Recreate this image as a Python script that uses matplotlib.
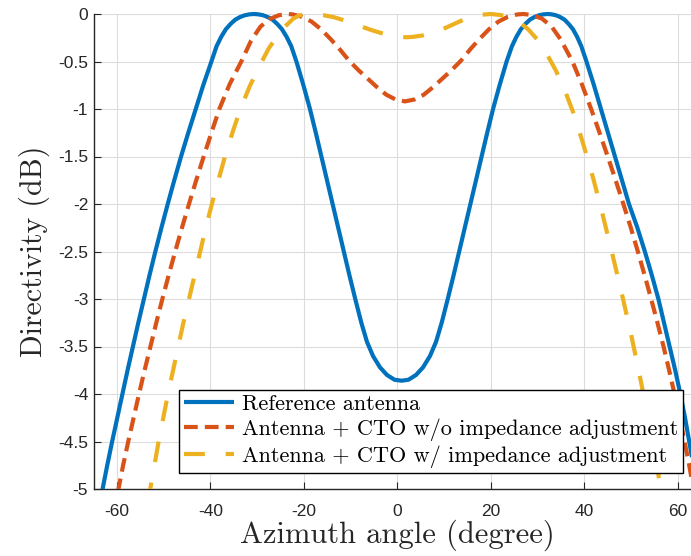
import matplotlib
matplotlib.use('Agg')
import matplotlib.pyplot as plt
from matplotlib.patches import Rectangle

# ---------------- data ----------------
# Reference antenna
ref_x = [-64.0, -63.1, -62.1, -61.05, -59.95, -58.85, -57.75, -56.6, -55.45, -54.25,
         -53.05, -51.8, -50.5, -49.15, -47.75, -46.3, -44.75, -43.15, -41.55, -39.8,
         -38.7, -37.7, -36.7, -35.7, -34.7, -33.7, -32.7, -31.7, -30.7, -29.7,
         -28.7, -27.7, -26.7, -25.7, -24.7, -23.7, -22.7, -21.6, -20.1, -18.7,
         -17.45, -16.25, -15.05, -13.85, -12.65, -11.45, -10.25, -9.0, -7.7, -6.5,
         -5.2, -3.7, -2.2, -0.6, 0.9, 2.4, 4.0, 5.5, 7.0, 8.3,
         9.5, 10.8, 12.05, 13.25, 14.45, 15.65, 16.85, 18.05, 19.25, 20.5,
         21.9, 23.4, 24.54, 25.5, 26.46, 27.42, 28.37, 29.33, 30.29, 31.24,
         32.2, 33.1, 34.0, 34.9, 35.8, 36.7, 37.6, 38.5, 39.4, 40.5,
         42.1, 43.6, 45.1, 46.6, 48.1, 49.6, 51.4, 53.0, 54.5, 55.9,
         57.1, 58.3, 59.5, 60.6, 61.6, 62.5, 63.4, 64.3]
ref_y = [-5.25, -5.0, -4.75, -4.5, -4.25, -4.0, -3.75, -3.5, -3.25, -3.0,
         -2.75, -2.5, -2.25, -2.0, -1.75, -1.5, -1.25, -1.0, -0.75, -0.5,
         -0.34, -0.24, -0.16, -0.105, -0.06, -0.033, -0.014, -0.004, 0.0, -0.004,
         -0.014, -0.033, -0.06, -0.105, -0.16, -0.24, -0.34, -0.5, -0.75, -1.0,
         -1.25, -1.5, -1.75, -2.0, -2.25, -2.5, -2.75, -3.0, -3.25, -3.45,
         -3.6, -3.72, -3.8, -3.85, -3.86, -3.85, -3.8, -3.72, -3.6, -3.45,
         -3.25, -3.0, -2.75, -2.5, -2.25, -2.0, -1.75, -1.5, -1.25, -1.0,
         -0.75, -0.5, -0.34, -0.24, -0.16, -0.105, -0.06, -0.033, -0.014, -0.004,
         0.0, -0.004, -0.014, -0.033, -0.06, -0.105, -0.16, -0.24, -0.34, -0.5,
         -0.75, -1.0, -1.25, -1.5, -1.75, -2.0, -2.25, -2.5, -2.75, -3.0,
         -3.25, -3.5, -3.75, -4.0, -4.25, -4.5, -4.75, -5.0]

# Antenna + CTO w/o impedance adjustment
wo_x = [-60.4, -59.7, -58.7, -57.6, -56.45, -55.3, -54.1, -52.85, -51.6, -50.3,
        -48.95, -47.55, -46.1, -44.6, -43.05, -41.45, -39.8, -38.1, -35.9, -33.4,
        -31.3, -29.3, -27.3, -25.3, -23.3, -22.35, -20.35, -18.35, -16.35, -14.35,
        -12.35, -10.35, -8.35, -6.35, -4.35, -2.35, -0.35, 1.65, 3.65, 5.65,
        7.65, 9.65, 11.65, 13.65, 15.65, 17.65, 19.65, 21.65, 23.65, 25.65,
        27.0, 29.0, 31.0, 33.0, 35.0, 37.5, 39.6, 41.5, 43.3, 45.05,
        46.75, 48.4, 50.0, 51.5, 52.95, 54.35, 55.7, 57.0, 58.2, 59.35,
        60.45, 61.5, 62.5, 63.4, 64.2]
wo_y = [-5.25, -5.0, -4.75, -4.5, -4.25, -4.0, -3.75, -3.5, -3.25, -3.0,
        -2.75, -2.5, -2.25, -2.0, -1.75, -1.5, -1.25, -1.0, -0.74, -0.5,
        -0.28, -0.133, -0.052, -0.012, 0.0, -0.005, -0.03, -0.08, -0.16, -0.26,
        -0.37, -0.49, -0.59, -0.68, -0.77, -0.85, -0.9, -0.92, -0.9, -0.85,
        -0.77, -0.68, -0.59, -0.49, -0.37, -0.26, -0.16, -0.08, -0.03, -0.005,
        0.0, -0.012, -0.05, -0.13, -0.27, -0.5, -0.75, -1.0, -1.25, -1.5,
        -1.75, -2.0, -2.25, -2.5, -2.75, -3.0, -3.25, -3.5, -3.75, -4.0,
        -4.25, -4.5, -4.75, -5.0, -5.2]

# Antenna + CTO w/ impedance adjustment
w_x = [-53.2, -52.9, -52.0, -51.1, -50.1, -49.1, -48.0, -46.9, -45.8, -44.6,
       -43.4, -42.2, -41.0, -39.7, -38.3, -36.9, -35.3, -33.6, -31.5, -29.0,
       -27.5, -25.8, -24.0, -22.3, -21.0, -19.5, -17.5, -15.5, -13.5, -11.5,
       -9.5, -7.5, -5.5, -3.5, -1.5, 0.5, 2.0, 3.5, 5.5, 7.5,
       9.5, 11.5, 13.5, 15.5, 17.5, 20.0, 22.0, 24.0, 26.0, 28.0,
       30.0, 32.0, 34.0, 36.0, 38.0, 40.0, 42.0, 44.0, 46.0, 48.0,
       50.0, 52.0, 54.0, 56.0, 56.5, 57.0]
w_y = [-5.15, -5.0, -4.75, -4.5, -4.25, -4.0, -3.75, -3.5, -3.25, -3.0,
       -2.75, -2.5, -2.25, -2.0, -1.75, -1.5, -1.25, -1.0, -0.75, -0.5,
       -0.36, -0.24, -0.13, -0.05, -0.015, 0.0, -0.005, -0.015, -0.035, -0.065,
       -0.1, -0.135, -0.17, -0.2, -0.225, -0.24, -0.245, -0.24, -0.225, -0.2,
       -0.165, -0.12, -0.075, -0.035, -0.01, 0.0, -0.01, -0.035, -0.08, -0.16,
       -0.27, -0.42, -0.6, -0.82, -1.08, -1.4, -1.74, -2.12, -2.52, -2.93,
       -3.36, -3.83, -4.33, -4.88, -5.0, -5.15]

labels = ['Reference antenna',
          'Antenna + CTO w/o impedance adjustment',
          'Antenna + CTO w/ impedance adjustment']

x_ticks = [-60, -40, -20, 0, 20, 40, 60]
x_tick_labels = ['-60', '-40', '-20', '0', '20', '40', '60']
y_ticks = [0, -0.5, -1, -1.5, -2, -2.5, -3, -3.5, -4, -4.5, -5]
y_tick_labels = ['0', '-0.5', '-1', '-1.5', '-2', '-2.5', '-3', '-3.5', '-4', '-4.5', '-5']

# ---------------- figure ----------------
W, H = 691, 556
fig = plt.figure(figsize=(W / 100, H / 100), dpi=100)
left_px, right_px, top_px, bot_px = 93.7, 700.9, 14.0, 489.0
ax = fig.add_axes([left_px / W, 1 - bot_px / H,
                   (right_px - left_px) / W, (bot_px - top_px) / H])

colors = ['#0072BD', '#D95319', '#EDB120']
styles = ['-', (0, (3.3, 1.7)), (0, (5.0, 5.0))]
data = [(ref_x, ref_y), (wo_x, wo_y), (w_x, w_y)]

for (xs, ys), c, ls, lab in zip(data, colors, styles, labels):
    ln, = ax.plot(xs, ys, color=c, lw=3.0, linestyle=ls, label=lab,
                  dash_capstyle='butt', solid_capstyle='butt',
                  solid_joinstyle='round', zorder=3)
    ln.set_clip_path(Rectangle((0, 0), 1, 1.03, transform=ax.transAxes))

ax.set_xlim(-65, 65)
ax.set_ylim(-5, 0)
ax.set_xticks(x_ticks)
ax.set_xticklabels(x_tick_labels)
ax.set_yticks(y_ticks)
ax.set_yticklabels(y_tick_labels)

ax.grid(True, color='#dcdcdc', lw=0.8)
ax.set_axisbelow(True)
for s in ['top', 'right']:
    ax.spines[s].set_visible(False)
for s in ['left', 'bottom']:
    ax.spines[s].set_color('#262626')
    ax.spines[s].set_linewidth(1.0)

ax.tick_params(direction='in', length=5, width=0.8, colors='#262626',
               labelsize=12.5)
ax.tick_params(axis='x', pad=10.5)
ax.tick_params(axis='y', pad=4)
for t in ax.get_xticklabels() + ax.get_yticklabels():
    t.set_fontfamily('Liberation Sans')
    t.set_color('#262626')

ax.set_xlabel('Azimuth angle (degree)', fontfamily='cmr10', fontsize=22,
              color='#262626', labelpad=1)
ax.set_ylabel('Directivity (dB)', fontfamily='cmr10', fontsize=21.5,
              color='#262626', labelpad=6)

leg = ax.legend(loc='lower right', bbox_to_anchor=(683 / W, 1 - 473 / H),
                bbox_transform=fig.transFigure,
                prop={'family': 'cmr10', 'size': 16},
                frameon=True, fancybox=False, edgecolor='black', framealpha=1,
                borderaxespad=0, handlelength=2.25, handletextpad=0.35,
                labelspacing=0.2, borderpad=0.22)
leg.get_frame().set_linewidth(1.0)
leg.set_zorder(5)

fig.savefig('out.png', dpi=100)
